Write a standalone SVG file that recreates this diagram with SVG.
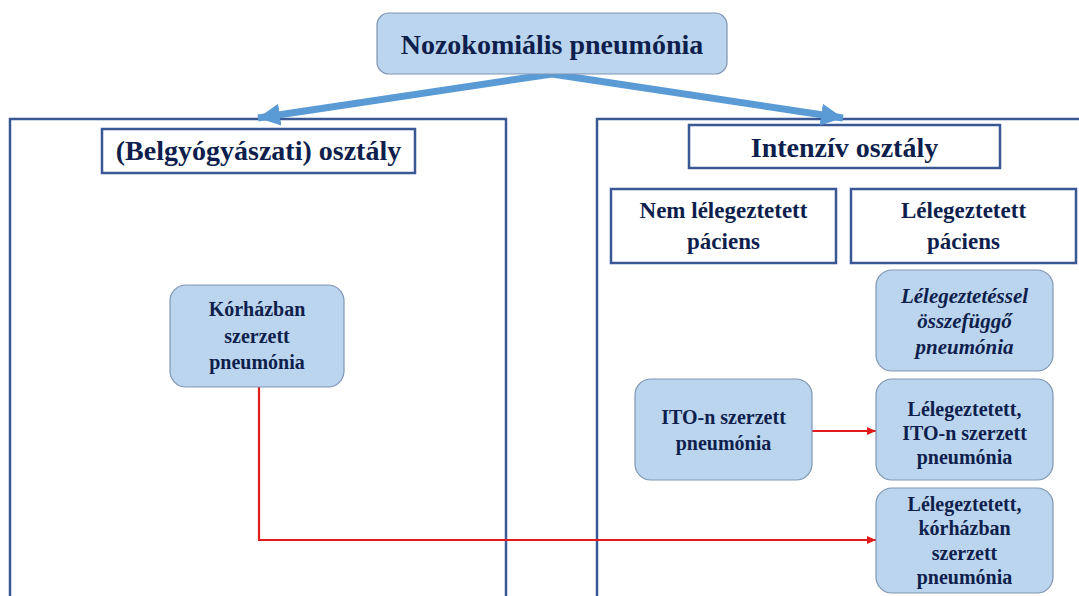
<svg xmlns="http://www.w3.org/2000/svg" width="1079" height="596" viewBox="0 0 1079 596">
<style>
.frame{fill:none;stroke:#3a5894;stroke-width:2.5}
.hdr{fill:#fff;stroke:#3a5894;stroke-width:2.5}
.node{fill:#bcd5ee;stroke:#7f95b2;stroke-width:1.2}
text{font-family:"Liberation Serif","Times New Roman",serif;font-weight:bold;fill:#0e1f4d;text-anchor:middle}
.t28{font-size:28px}
.t23{font-size:23px}
.t20{font-size:20px}
.it{font-style:italic;font-size:21px}
.blue{stroke:#5b9bd5;stroke-width:7;fill:none}
.red{stroke:#e21c1c;stroke-width:2.2;fill:none}
</style>
<defs>
<marker id="bh" markerUnits="userSpaceOnUse" markerWidth="24" markerHeight="24" viewBox="0 0 24 24" refX="22" refY="12" orient="auto">
<path d="M0,1 L22,12 L0,23 z" fill="#5b9bd5"/>
</marker>
<marker id="rh" markerUnits="userSpaceOnUse" markerWidth="10" markerHeight="8" viewBox="0 0 10 8" refX="9" refY="4" orient="auto">
<path d="M0,0 L9,4 L0,8 z" fill="#e21c1c"/>
</marker>
</defs>
<g id="frames">
<rect id="left-frame" class="frame" x="10" y="119" width="496" height="490"/>
<rect id="right-frame" class="frame" x="597" y="119" width="500" height="490"/>
</g>
<g id="hdr-belgy"><rect class="hdr" x="102" y="129" width="313" height="44"/><text class="t28" x="258.5" y="160">(Belgyógyászati) osztály</text></g>
<g id="hdr-intenziv"><rect class="hdr" x="689" y="125" width="311" height="43"/><text class="t28" x="844.5" y="157">Intenzív osztály</text></g>
<g id="hdr-nem"><rect class="hdr" x="611" y="189" width="225" height="74"/><text class="t23" x="723.5" y="218">Nem lélegeztetett</text><text class="t23" x="723.5" y="249">páciens</text></g>
<g id="hdr-leleg"><rect class="hdr" x="851" y="189" width="225" height="74"/><text class="t23" x="963.5" y="218">Lélegeztetett</text><text class="t23" x="963.5" y="249">páciens</text></g>
<g id="connectors">
<line class="blue" x1="552" y1="74" x2="258" y2="118" marker-end="url(#bh)"/>
<line class="blue" x1="552" y1="74" x2="843" y2="118" marker-end="url(#bh)"/>
<line class="red" x1="812" y1="431" x2="876" y2="431" marker-end="url(#rh)"/>
<polyline class="red" points="259,387 259,540 876,540" marker-end="url(#rh)"/>
</g>
<g id="top"><rect class="node" x="377" y="13" width="350" height="61" rx="12"/><text class="t28" x="552" y="54">Nozokomiális pneumónia</text></g>
<g id="korhaz"><rect class="node" x="170" y="285" width="174" height="102" rx="16"/><text class="t20" x="257" y="316">Kórházban</text><text class="t20" x="257" y="343">szerzett</text><text class="t20" x="257" y="369">pneumónia</text></g>
<g id="ito"><rect class="node" x="635" y="379" width="177" height="101" rx="16"/><text class="t20" x="723.5" y="424">ITO-n szerzett</text><text class="t20" x="723.5" y="450">pneumónia</text></g>
<g id="vap"><rect class="node" x="876" y="270" width="177" height="101" rx="16"/><text class="it" x="964.5" y="303">Lélegeztetéssel</text><text class="it" x="964.5" y="328">összefüggő</text><text class="it" x="964.5" y="354">pneumónia</text></g>
<g id="leleg-ito"><rect class="node" x="876" y="379" width="177" height="101" rx="16"/><text class="t20" x="964.5" y="416">Lélegeztetett,</text><text class="t20" x="964.5" y="440">ITO-n szerzett</text><text class="t20" x="964.5" y="464">pneumónia</text></g>
<g id="leleg-korhaz"><rect class="node" x="876" y="488" width="177" height="105" rx="16"/><text class="t20" x="964.5" y="511">Lélegeztetett,</text><text class="t20" x="964.5" y="535">kórházban</text><text class="t20" x="964.5" y="560">szerzett</text><text class="t20" x="964.5" y="584">pneumónia</text></g>
</svg>
